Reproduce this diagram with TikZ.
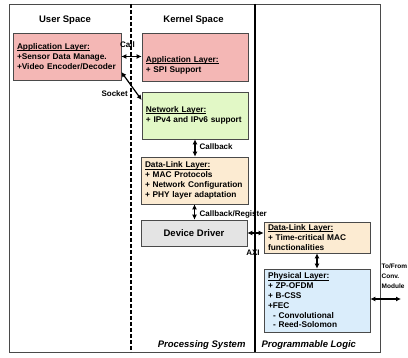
\documentclass[tikz,border=0pt]{standalone}
\usepackage{fontspec}
\setmainfont{Liberation Sans}
\usetikzlibrary{arrows.meta,shadows}
\definecolor{pinkc}{HTML}{F4B7B5}
\definecolor{greenc}{HTML}{E2F8C6}
\definecolor{beigec}{HTML}{FCEBD2}
\definecolor{grayc}{HTML}{E4E4E4}
\definecolor{bluec}{HTML}{DAEDFB}
\definecolor{bordc}{HTML}{4A4A4A}
\newlength\hdlen
\newcommand\hd[1]{\settowidth\hdlen{#1}\rlap{\rule[-1.2pt]{\hdlen}{0.6pt}}#1}
\tikzset{
  boxshadow/.style={drop shadow={shadow xshift=0.9pt,shadow yshift=-0.9pt,fill=black!30,opacity=1}},
  boxtext/.style={align=left,inner xsep=4pt,inner ysep=2pt,
    font=\bfseries\fontsize{8.3}{9.8}\selectfont},
  layerbox/.style={boxtext,draw=bordc,line width=0.7pt,boxshadow},
  title/.style={font=\bfseries\fontsize{9.5}{11}\selectfont},
  foot/.style={font=\bfseries\itshape\fontsize{9.5}{11}\selectfont},
  lbl/.style={font=\bfseries\fontsize{8}{9.5}\selectfont,inner sep=0.5pt},
  arr/.style={line width=1.2pt,{Latex[length=5pt,width=5pt]}-{Latex[length=5pt,width=5pt]}}
}
\begin{document}
\begin{tikzpicture}[x=1pt,y=-1pt]
\useasboundingbox (0,0) rectangle (408,358);
% frame and separators
\draw[bordc,line width=0.8pt] (9,4) rectangle (380,352);
\draw[black,line width=1.8pt,dash pattern=on 4pt off 2pt] (131,4) -- (131,352);
\draw[black,line width=1.3pt] (255,4) -- (255,352);
% titles
\node[title] (tus) at (65,20) {User Space};
\node[title] (tks) at (193.5,20) {Kernel Space};
\node[foot,anchor=east] (tps) at (249,345) {Processing System};
\node[foot,anchor=west] (tpl) at (258,345) {Programmable Logic};
% boxes
\node[layerbox,fill=pinkc,text width=100pt,minimum height=47pt] (uapp) at (67,56.5)
  {\hd{Application Layer:}\\+Sensor Data Manage.\\+Video Encoder/Decoder};
\node[layerbox,fill=pinkc,text width=98pt,minimum height=48pt] (kapp) at (195,57) {};
\node[boxtext,text width=98pt,anchor=west] (kapptxt)
  at ([yshift=-8.5pt]kapp.west) {\hd{Application Layer:}\\+ SPI Support};
\node[layerbox,fill=greenc,text width=98pt,minimum height=47pt] (net) at (195,115.5)
  {\hd{Network Layer:}\\+ IPv4 and IPv6 support};
\node[layerbox,fill=beigec,text width=99pt,minimum height=47pt] (dl) at (194.5,180.5)
  {\hd{Data-Link Layer:}\\+ MAC Protocols\\+ Network Configuration\\+ PHY layer adaptation};
\node[layerbox,fill=grayc,minimum width=106pt,minimum height=26pt,align=center,
  font=\bfseries\fontsize{9.5}{11}\selectfont] (dd) at (194,233) {Device Driver};
\node[layerbox,fill=beigec,text width=98pt,minimum height=31pt] (pldl) at (317,237.5)
  {\hd{Data-Link Layer:}\\+ Time-critical MAC\\functionalities};
\node[layerbox,fill=bluec,text width=98pt,minimum height=63pt] (phy) at (317,300.5)
  {\hd{Physical Layer:}\\+ ZP-OFDM\\+ B-CSS\\+FEC\\\hspace*{5pt}- Convolutional\\\hspace*{5pt}- Reed-Solomon};
\coordinate (conv) at (401,299);
% connectors
\draw[arr] (uapp.east) -- (uapp.east -| kapp.west);
\draw[arr] ([yshift=-15.5pt]uapp.east) -- ([yshift=15.5pt]net.west);
\draw[arr] (net.south) -- (net.south |- dl.north);
\draw[arr] (dl.south) -- (dl.south |- dd.north);
\draw[arr] (dd.east) -- (dd.east -| pldl.west);
\draw[arr] (pldl.south) -- (phy.north);
\draw[arr] (phy.east |- conv) -- (conv);
% labels
\node[lbl] (lcall) at (127.5,45) {Call};
\node[lbl,anchor=east] (lsock) at (128.5,94) {Socket};
\node[lbl,anchor=west] (lcb) at (199,147) {Callback};
\node[lbl,anchor=west] (lcbr) at (199,214) {Callback/Register};
\node[lbl] (laxi) at (253,252.5) {AXI};
\node[font=\bfseries\fontsize{6.5}{10}\selectfont,align=left,anchor=north west,inner sep=0pt] (lconv)
  at (381.5,264) {To/From\\Conv.\\Module};
\end{tikzpicture}
\end{document}
